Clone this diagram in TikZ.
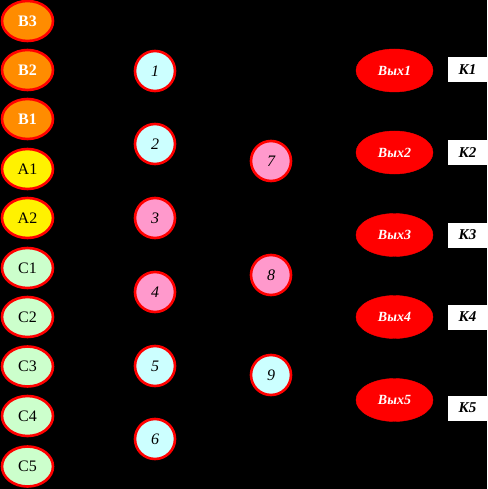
\documentclass[tikz,border=0pt]{standalone}
\usepackage{fontspec}
\setmainfont{Liberation Serif}
\usetikzlibrary{shapes.geometric}
\definecolor{borange}{RGB}{255,140,0}
\definecolor{lgreen}{RGB}{204,255,204}
\definecolor{lcyan}{RGB}{204,255,255}
\definecolor{lpink}{RGB}{255,153,204}
\begin{document}
\begin{tikzpicture}[x=1pt,y=-1pt,
  inp/.style={ellipse,draw=red,line width=2.6pt,minimum width=51pt,minimum height=40pt,inner sep=0pt,font=\fontsize{16}{18}\selectfont},
  inb/.style={inp,fill=borange,text=white,font=\fontsize{16}{18}\selectfont\bfseries},
  mid/.style={circle,draw=red,line width=2.6pt,minimum size=40pt,inner sep=0pt,font=\fontsize{16}{18}\selectfont\itshape},
  outp/.style={ellipse,fill=red,draw=red,minimum width=77pt,minimum height=43pt,inner sep=0pt,text=white,font=\fontsize{14}{16}\selectfont\bfseries\itshape},
  kbox/.style={rectangle,fill=white,minimum width=40pt,minimum height=25pt,inner sep=0pt,font=\fontsize{15}{17}\selectfont\bfseries\itshape}]
\fill[black] (0,0) rectangle (487,489);
\useasboundingbox (0,0) rectangle (487,489);
% input column
\node[inb] (b3) at (27.5,21) {В3};
\node[inb] (b2) at (27.5,70) {В2};
\node[inb] (b1) at (27.5,119) {В1};
\node[inp,fill=yellow] (a1) at (27.5,169) {А1};
\node[inp,fill=yellow] (a2) at (27.5,218) {А2};
\node[inp,fill=lgreen] (c1) at (27.5,268) {С1};
\node[inp,fill=lgreen] (c2) at (27.5,317) {С2};
\node[inp,fill=lgreen] (c3) at (27.5,366.5) {С3};
\node[inp,fill=lgreen] (c4) at (27.5,416) {С4};
\node[inp,fill=lgreen] (c5) at (27.5,466.5) {С5};
% middle column
\node[mid,fill=lcyan] (n1) at (155,71) {1};
\node[mid,fill=lcyan] (n2) at (155,144) {2};
\node[mid,fill=lpink] (n3) at (155,218) {3};
\node[mid,fill=lpink] (n4) at (155,292) {4};
\node[mid,fill=lcyan] (n5) at (155,366) {5};
\node[mid,fill=lcyan] (n6) at (155,439) {6};
% third column
\node[mid,fill=lpink] (n7) at (271,161) {7};
\node[mid,fill=lpink] (n8) at (271,275) {8};
\node[mid,fill=lcyan] (n9) at (271,375) {9};
% outputs
\node[outp] (o1) at (394.5,70.5) {Вых1};
\node[outp] (o2) at (394.5,152.5) {Вых2};
\node[outp] (o3) at (394.5,235) {Вых3};
\node[outp] (o4) at (394.5,317) {Вых4};
\node[outp] (o5) at (394.5,400) {Вых5};
% K boxes
\node[kbox] (k1) at (467.5,70) {К1};
\node[kbox] (k2) at (467.5,152.5) {К2};
\node[kbox] (k3) at (467.5,235) {К3};
\node[kbox] (k4) at (467.5,317) {К4};
\node[kbox] (k5) at (467.5,408) {К5};
\end{tikzpicture}
\end{document}
